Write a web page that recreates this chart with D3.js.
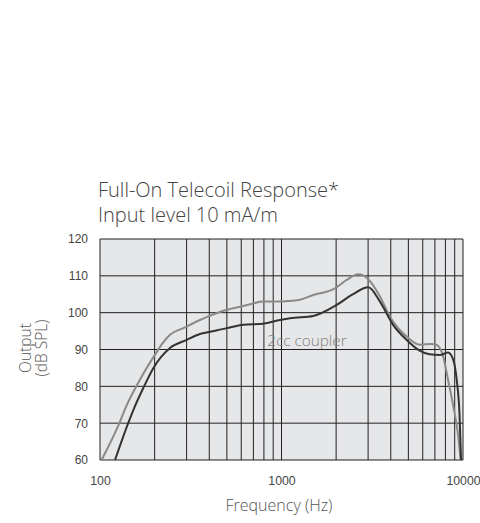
<!DOCTYPE html>
<html><head><meta charset="utf-8">
<script src="https://cdn.jsdelivr.net/npm/d3@7"></script>
<style>body{margin:0;background:#fff;}svg{display:block;}</style>
</head><body>
<svg id="c" width="480" height="523"></svg>
<script>
const titleLines = ["Full-On Telecoil Response*", "Input level 10 mA/m"];
const yTicks = [60, 70, 80, 90, 100, 110, 120];
const xTickLabels = [100, 1000, 10000];
const xGrid = [100,200,300,400,500,600,700,800,900,1000,2000,3000,4000,5000,6000,7000,8000,9000,10000];
const seriesLabel = "2cc coupler";
const lightFreq = [102,129,137,166,201,222,243,288,355,387,500,617,794,981,1114,1265,1496,1971,2287,2650,3008,3488,3960,4895,5770,6700,7140,7780,8270,8840,9420,9700];
const lightDb   = [60,70.5,73.7,81.8,88.6,91.8,94,95.8,98,98.8,100.8,101.8,103,103,103.2,103.5,104.8,106.6,108.9,110.4,109.1,104.4,98.9,93.5,91.3,91.5,91.3,88.1,81.8,74.6,66.4,60];
const darkFreq = [121,143,153,173,197,243,300,355,404,500,617,794,981,1114,1496,2015,2437,3008,3488,4120,4895,5770,6540,7460,8270,8840,9230,9560,9760];
const darkDb   = [60,70,73.7,79.5,85,90.4,92.6,94.2,94.8,95.8,96.7,97,98,98.5,99.1,102.1,104.8,106.9,103,96.7,92.6,89.7,88.7,88.5,89.2,87.2,81.8,72.8,60];

const svg = d3.select("#c");
const L=100, R=463, T=239, B=460;
const x = d3.scaleLog().domain([100,10000]).range([L,R]);
const y = d3.scaleLinear().domain([60,120]).range([B,T]);

svg.append("rect").attr("x",L).attr("y",T).attr("width",R-L).attr("height",B-T).attr("fill","#e6e7e8");

const g = svg.append("g");
g.selectAll("line.h").data(yTicks).enter().append("line")
 .attr("x1",L).attr("x2",R).attr("y1",d=>y(d)).attr("y2",d=>y(d))
 .attr("stroke","#231f20").attr("stroke-width",1);
g.selectAll("line.v").data(xGrid).enter().append("line")
 .attr("y1",T).attr("y2",B).attr("x1",d=>x(d)).attr("x2",d=>x(d))
 .attr("stroke","#231f20").attr("stroke-width",1);

svg.append("text").attr("x",x(1380)).attr("y",y(91)).attr("text-anchor","middle").text(seriesLabel)
 .attr("font-family","Open Sans").attr("font-weight",300).attr("font-size",15.3).attr("fill","#808080");

const line = d3.line().x(d=>x(d[0])).y(d=>y(d[1])).curve(d3.curveMonotoneX);
svg.append("path").datum(lightFreq.map((f,i)=>[f,lightDb[i]])).attr("d",line)
 .attr("fill","none").attr("stroke","#8a8a8a").attr("stroke-width",2);
svg.append("path").datum(darkFreq.map((f,i)=>[f,darkDb[i]])).attr("d",line)
 .attr("fill","none").attr("stroke","#333").attr("stroke-width",2);

const yAxis = d3.axisLeft(y).tickValues(yTicks).tickSize(0).tickPadding(12);
const ya = svg.append("g").attr("transform",`translate(${L},0)`).call(yAxis);
ya.select(".domain").remove();
ya.selectAll("text").attr("font-family","Liberation Sans, Arial").attr("font-size",12).attr("fill","#444");

const xAxis = d3.axisBottom(x).tickValues(xTickLabels).tickFormat(d3.format("d")).tickSize(0).tickPadding(16);
const xa = svg.append("g").attr("transform",`translate(0,${B})`).call(xAxis);
xa.select(".domain").remove();
xa.selectAll("text").attr("font-family","Liberation Sans, Arial").attr("font-size",12.3).attr("fill","#444");

const title = svg.append("text").attr("font-family","Open Sans").attr("font-weight",300)
 .attr("font-size",20).attr("fill","#444");
title.selectAll("tspan").data(titleLines).enter().append("tspan")
 .attr("x",98).attr("y",(d,i)=>197+i*25).text(d=>d);

svg.append("text").attr("x",279).attr("y",511).attr("text-anchor","middle").text("Frequency (Hz)")
 .attr("font-family","Open Sans").attr("font-weight",300).attr("font-size",16).attr("fill","#555");

const yl = svg.append("text").attr("transform","translate(31,348) rotate(-90)").attr("text-anchor","middle")
 .attr("font-family","Open Sans").attr("font-weight",300).attr("font-size",15.5).attr("fill","#555");
yl.append("tspan").attr("x",0).attr("y",0).text("Output");
yl.append("tspan").attr("x",0).attr("y",16).text("(dB SPL)");
</script>
</body></html>
